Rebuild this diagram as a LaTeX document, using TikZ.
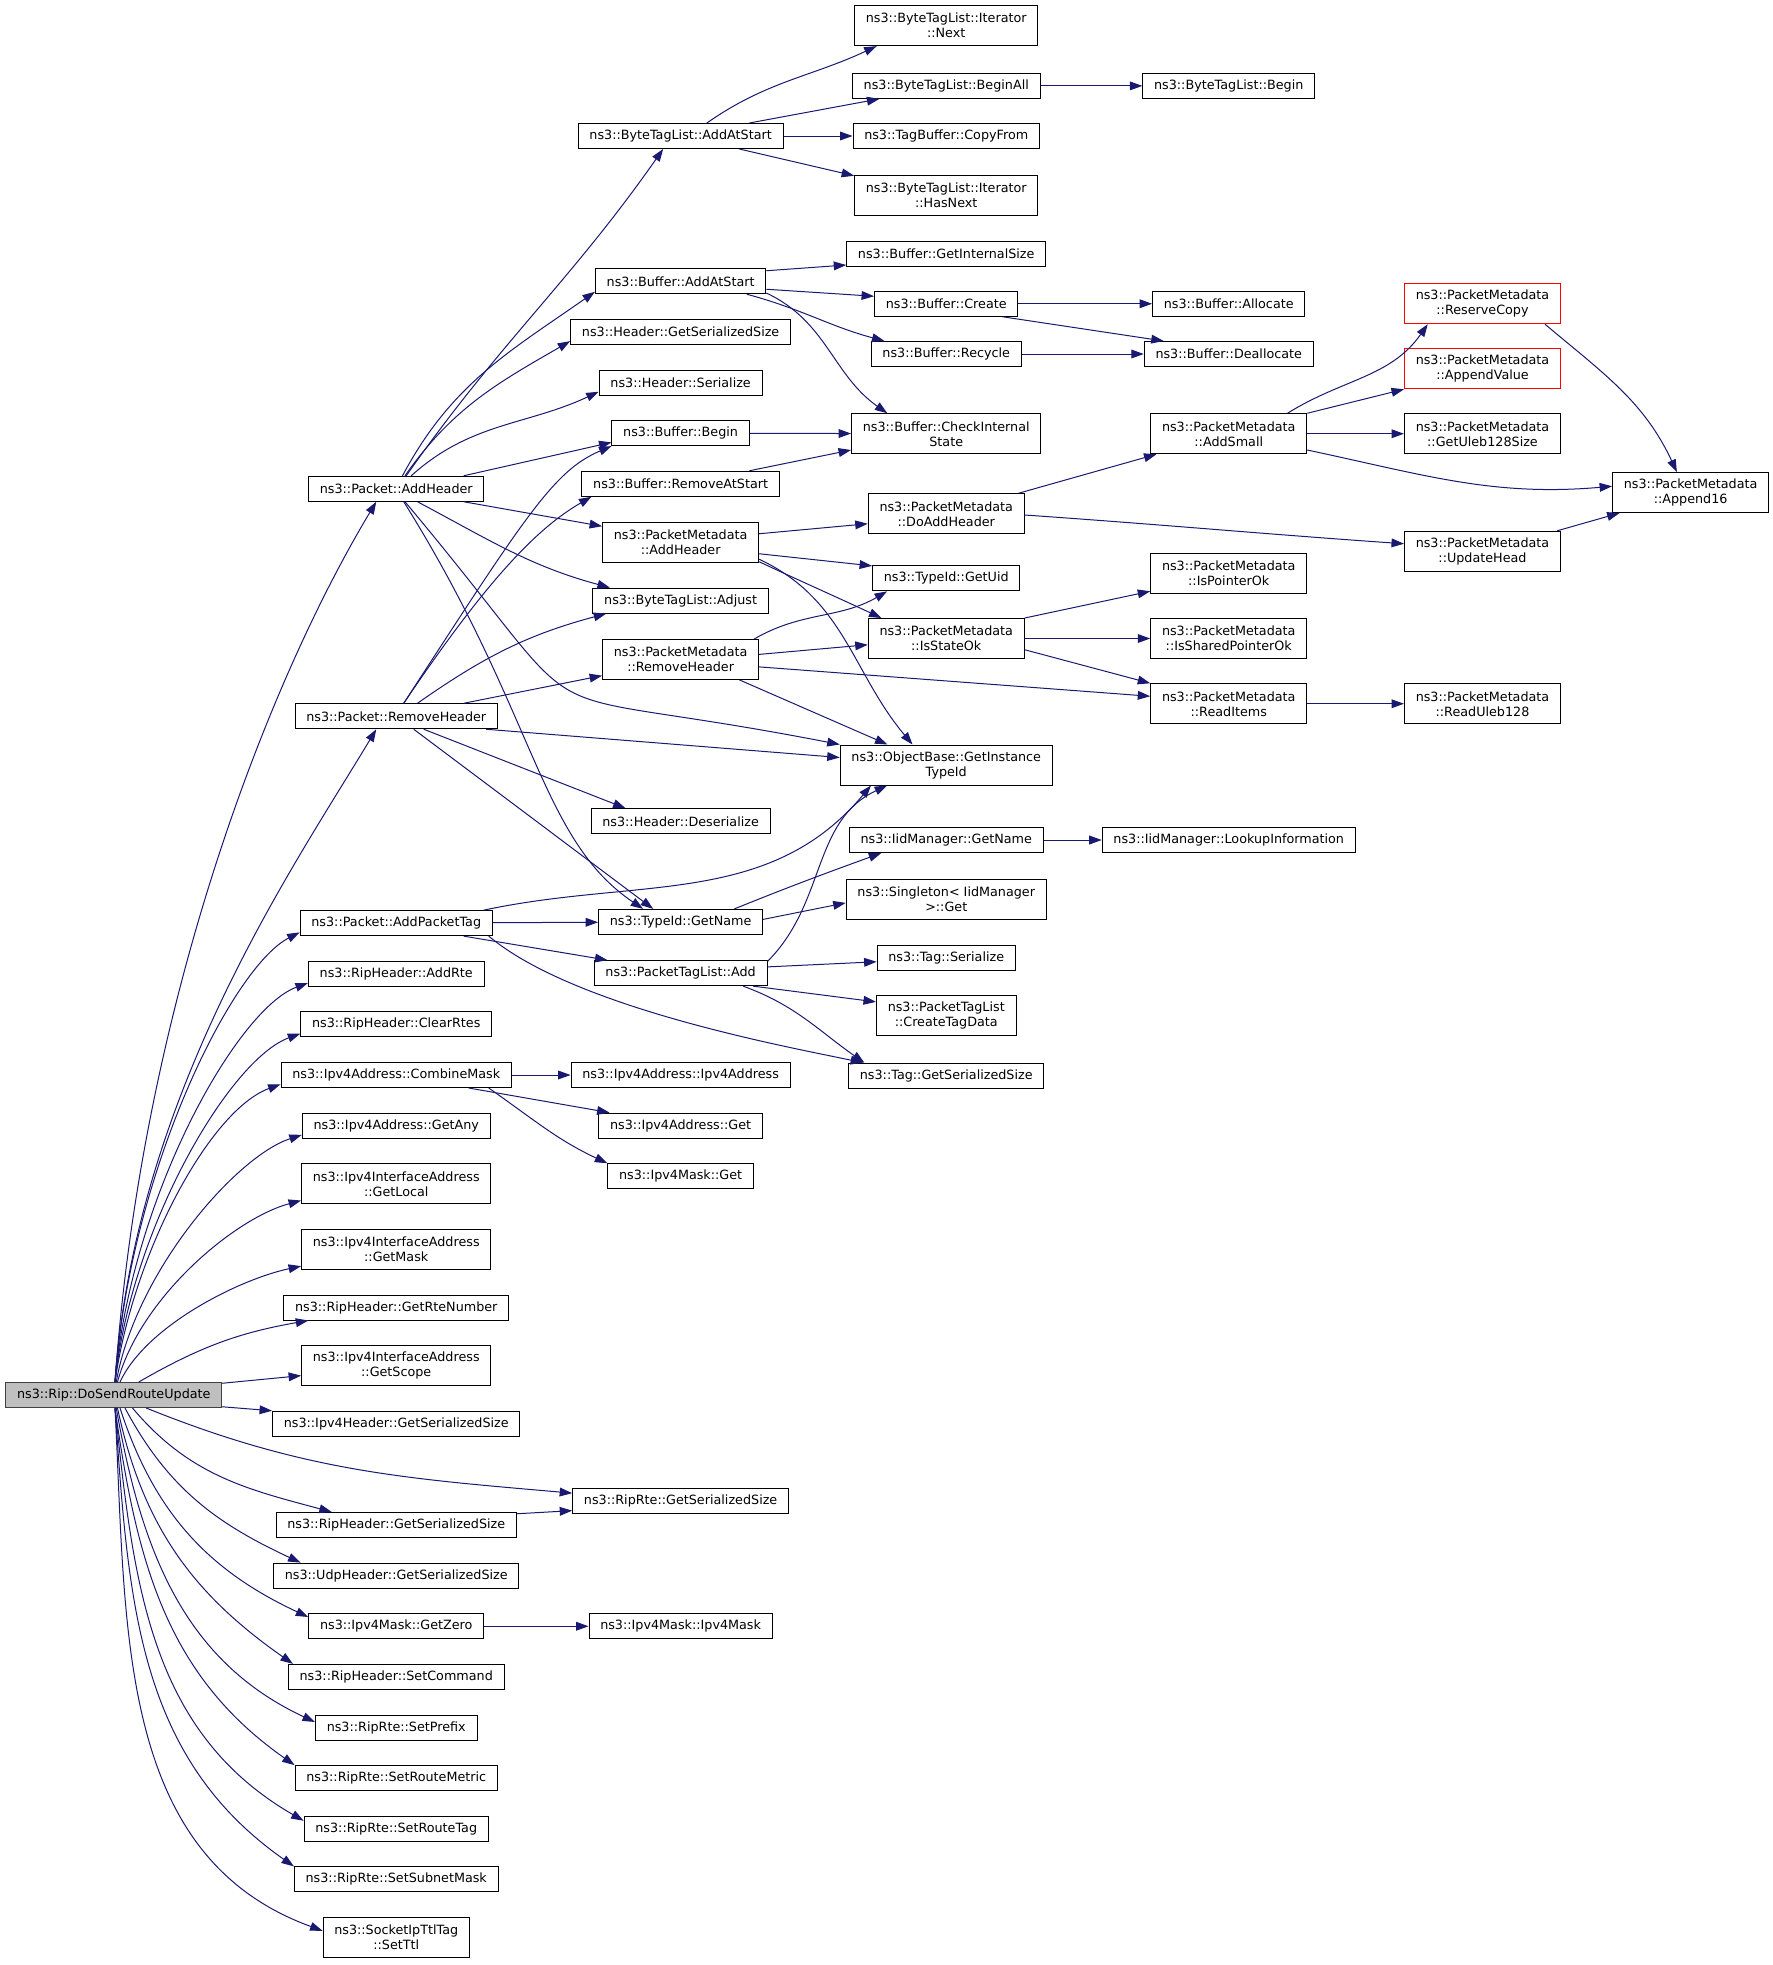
\documentclass[tikz,border=0pt]{standalone}
\usepackage{fontspec}
\setmainfont{DejaVu Sans}
\usepackage{tikz}
\usetikzlibrary{arrows.meta}
\definecolor{callblue}{HTML}{191970}
\tikzset{
  fn/.style = {rectangle, draw=black, align=center, inner xsep=9pt,
    inner ysep=4pt, minimum height=20pt, line width=0.8pt,
    font=\fontsize{10.2}{12}\selectfont},
  fntwo/.style = {fn, minimum height=32pt},
  rootfn/.style = {fn, fill=black!25, draw=black!75},
  redfn/.style = {fntwo, draw=red},
  call/.style = {draw=callblue, line width=0.8pt}
}

\begin{document}
\begin{tikzpicture}[x=1pt, y=1pt, ->, >={Triangle[length=10pt, width=7pt]}]
\useasboundingbox (0,0) rectangle (1418.4,-1572);

\node[rootfn] (do) at (91,-1116) {ns3::Rip::DoSendRouteUpdate};

% first level
\node[fn] (addhdr) at (317,-391) {ns3::Packet::AddHeader};
\node[fn] (rmhdr) at (317,-573) {ns3::Packet::RemoveHeader};
\node[fn] (addtag) at (317,-738.5) {ns3::Packet::AddPacketTag};
\node[fn] (addrte) at (317,-779) {ns3::RipHeader::AddRte};
\node[fn] (clrrtes) at (317,-819.5) {ns3::RipHeader::ClearRtes};
\node[fn] (cmbmask) at (317,-860) {ns3::Ipv4Address::CombineMask};
\node[fn] (getany) at (317,-900.5) {ns3::Ipv4Address::GetAny};
\node[fntwo] (getlocal) at (317,-947) {ns3::Ipv4InterfaceAddress\\::GetLocal};
\node[fntwo] (getmask) at (317,-999.5) {ns3::Ipv4InterfaceAddress\\::GetMask};
\node[fn] (rtenum) at (317,-1046) {ns3::RipHeader::GetRteNumber};
\node[fntwo] (getscope) at (317,-1092.5) {ns3::Ipv4InterfaceAddress\\::GetScope};
\node[fn] (ipv4sz) at (317,-1139) {ns3::Ipv4Header::GetSerializedSize};
\node[fn] (riphsz) at (317,-1220) {ns3::RipHeader::GetSerializedSize};
\node[fn] (udpsz) at (317,-1260.5) {ns3::UdpHeader::GetSerializedSize};
\node[fn] (getzero) at (317,-1301) {ns3::Ipv4Mask::GetZero};
\node[fn] (setcmd) at (317,-1341.5) {ns3::RipHeader::SetCommand};
\node[fn] (setprefix) at (317,-1382) {ns3::RipRte::SetPrefix};
\node[fn] (setmetric) at (317,-1422.5) {ns3::RipRte::SetRouteMetric};
\node[fn] (settag) at (317,-1463) {ns3::RipRte::SetRouteTag};
\node[fn] (setmask) at (317,-1503.5) {ns3::RipRte::SetSubnetMask};
\node[fntwo] (setttl) at (317,-1550) {ns3::SocketIpTtlTag\\::SetTtl};

% second level
\node[fn] (btlstart) at (544.5,-108.8) {ns3::ByteTagList::AddAtStart};
\node[fn] (bufstart) at (544.5,-225) {ns3::Buffer::AddAtStart};
\node[fn] (hdrsz) at (544.5,-265.5) {ns3::Header::GetSerializedSize};
\node[fn] (hdrser) at (544.5,-306) {ns3::Header::Serialize};
\node[fn] (bufbegin) at (544.5,-346.5) {ns3::Buffer::Begin};
\node[fn] (bufrm) at (544.5,-387) {ns3::Buffer::RemoveAtStart};
\node[fntwo] (pmadd) at (544.5,-434) {ns3::PacketMetadata\\::AddHeader};
\node[fn] (btladj) at (544.5,-480.5) {ns3::ByteTagList::Adjust};
\node[fntwo] (pmrm) at (544.5,-527.5) {ns3::PacketMetadata\\::RemoveHeader};
\node[fn] (hdrdes) at (544.5,-657) {ns3::Header::Deserialize};
\node[fn] (tidname) at (544.5,-737.5) {ns3::TypeId::GetName};
\node[fn] (ptladd) at (544.5,-778.5) {ns3::PacketTagList::Add};
\node[fn] (ipv4ctor) at (544.5,-860) {ns3::Ipv4Address::Ipv4Address};
\node[fn] (ipv4get) at (544.5,-900.5) {ns3::Ipv4Address::Get};
\node[fn] (maskget) at (544.5,-941) {ns3::Ipv4Mask::Get};
\node[fn] (rtesz) at (544.5,-1200.5) {ns3::RipRte::GetSerializedSize};
\node[fn] (maskctor) at (544.5,-1301) {ns3::Ipv4Mask::Ipv4Mask};

% third level
\node[fntwo] (itnext) at (757,-20.5) {ns3::ByteTagList::Iterator\\::Next};
\node[fn] (beginall) at (757,-68.7) {ns3::ByteTagList::BeginAll};
\node[fn] (copyfrom) at (757,-108.8) {ns3::TagBuffer::CopyFrom};
\node[fntwo] (hasnext) at (757,-156) {ns3::ByteTagList::Iterator\\::HasNext};
\node[fn] (intsize) at (757,-203) {ns3::Buffer::GetInternalSize};
\node[fn] (bufcreate) at (757,-243) {ns3::Buffer::Create};
\node[fn] (recycle) at (757,-283.2) {ns3::Buffer::Recycle};
\node[fntwo] (checkstate) at (757,-347) {ns3::Buffer::CheckInternal\\State};
\node[fntwo] (doadd) at (757,-411) {ns3::PacketMetadata\\::DoAddHeader};
\node[fn] (getuid) at (757,-462.7) {ns3::TypeId::GetUid};
\node[fntwo] (stateok) at (757,-510.8) {ns3::PacketMetadata\\::IsStateOk};
\node[fntwo] (insttid) at (757,-612) {ns3::ObjectBase::GetInstance\\TypeId};
\node[fn] (iidname) at (757,-672) {ns3::IidManager::GetName};
\node[fntwo] (singleton) at (757,-719.3) {ns3::Singleton< IidManager\\>::Get};
\node[fn] (tagser) at (757,-766.4) {ns3::Tag::Serialize};
\node[fntwo] (createtag) at (757,-812.5) {ns3::PacketTagList\\::CreateTagData};
\node[fn] (tagsz) at (757,-860.6) {ns3::Tag::GetSerializedSize};

% fourth level and beyond
\node[fn] (btlbegin) at (983,-68.7) {ns3::ByteTagList::Begin};
\node[fn] (allocate) at (983,-243) {ns3::Buffer::Allocate};
\node[fn] (dealloc) at (983,-283.2) {ns3::Buffer::Deallocate};
\node[fntwo] (addsmall) at (983,-347) {ns3::PacketMetadata\\::AddSmall};
\node[fntwo] (ptrok) at (983,-458.6) {ns3::PacketMetadata\\::IsPointerOk};
\node[fntwo] (sharedok) at (983,-510.8) {ns3::PacketMetadata\\::IsSharedPointerOk};
\node[fntwo] (readitems) at (983,-563) {ns3::PacketMetadata\\::ReadItems};
\node[fn] (lookup) at (983,-672) {ns3::IidManager::LookupInformation};
\node[redfn] (reserve) at (1186,-243) {ns3::PacketMetadata\\::ReserveCopy};
\node[redfn] (appendval) at (1186,-295) {ns3::PacketMetadata\\::AppendValue};
\node[fntwo] (uleb128sz) at (1186,-347) {ns3::PacketMetadata\\::GetUleb128Size};
\node[fntwo] (updatehead) at (1186,-441) {ns3::PacketMetadata\\::UpdateHead};
\node[fntwo] (readuleb) at (1186,-563) {ns3::PacketMetadata\\::ReadUleb128};
\node[fntwo] (append16) at (1352.5,-394) {ns3::PacketMetadata\\::Append16};

% calls from the root
\draw[call] ([xshift=1pt]do.north) to[out=86, in=239, out distance=300pt, in distance=170pt] ([xshift=-16pt]addhdr.south);
\draw[call] ([xshift=1pt]do.north) to[out=86, in=239, out distance=230pt, in distance=130pt] ([xshift=-16pt]rmhdr.south);
\draw[call] ([xshift=1pt]do.north) to[out=86, in=207, out distance=170pt, in distance=60pt] ([yshift=3pt]addtag.south west);
\draw[call] ([xshift=1pt]do.north) to[out=85, in=200, out distance=150pt, in distance=60pt] ([yshift=3pt]addrte.south west);
\draw[call] ([xshift=1pt]do.north) to[out=84, in=200, out distance=125pt, in distance=60pt] ([yshift=3pt]clrrtes.south west);
\draw[call] ([xshift=1pt]do.north) to[out=82, in=200, out distance=105pt, in distance=60pt] ([yshift=3pt]cmbmask.south west);
\draw[call] ([xshift=2pt]do.north) to[out=80, in=198, out distance=90pt, in distance=55pt] ([yshift=3pt]getany.south west);
\draw[call] ([xshift=3pt]do.north) to[out=75, in=195, out distance=70pt, in distance=55pt] ([yshift=3pt]getlocal.south west);
\draw[call] ([xshift=5pt]do.north) to[out=65, in=192, out distance=50pt, in distance=50pt] ([yshift=3pt]getmask.south west);
\draw[call] ([xshift=20pt]do.north) to[out=30, in=190] ([xshift=20pt]rtenum.south west);
\draw[call] ([yshift=-1pt]do.north east) -- ([yshift=-8pt]getscope.west);
\draw[call] ([yshift=1pt]do.south east) -- (ipv4sz.north west);
\draw[call] ([xshift=26pt]do.south) to[out=-22, in=175] ([yshift=6pt]rtesz.west);
\draw[call] ([xshift=15pt]do.south) to[out=-50, in=165] ([xshift=45pt]riphsz.north west);
\draw[call] ([xshift=9pt]do.south) to[out=-62, in=155] ([xshift=22pt]udpsz.north west);
\draw[call] ([xshift=5pt]do.south) to[out=-72, in=155] ([yshift=-3pt]getzero.north west);
\draw[call] ([xshift=3pt]do.south) to[out=-78, in=145] ([xshift=4pt]setcmd.north west);
\draw[call] ([xshift=2pt]do.south) to[out=-80, in=155] ([yshift=-6pt]setprefix.north west);
\draw[call] ([xshift=1pt]do.south) to[out=-82, in=145] (setmetric.north west);
\draw[call] ([xshift=1pt]do.south) to[out=-84, in=150] ([yshift=-4pt]settag.north west);
\draw[call] ([xshift=1pt]do.south) to[out=-86, in=145] (setmask.north west);
\draw[call] ([xshift=1pt]do.south) to[out=-87, in=160] ([yshift=-11pt]setttl.north west);

% Packet::AddHeader
\draw[call] ([xshift=8pt]addhdr.north) to[out=55, in=235] ([xshift=-14pt]btlstart.south);
\draw[call] ([xshift=5pt]addhdr.north) to[out=62, in=215] ([yshift=2pt]bufstart.south west);
\draw[call] ([xshift=7pt]addhdr.north) to[out=55, in=210] ([yshift=3pt]hdrsz.south west);
\draw[call] ([xshift=12pt]addhdr.north) to[out=42, in=205] ([yshift=3pt]hdrser.south west);
\draw[call] ([xshift=54pt]addhdr.north) -- ([yshift=3pt]bufbegin.south west);
\draw[call] ([xshift=54pt]addhdr.south) -- ([yshift=13pt]pmadd.west);
\draw[call] ([xshift=17pt]addhdr.south) to[out=-28, in=165] ([xshift=14pt]btladj.north west);
\draw[call] ([xshift=7pt]addhdr.south) to[out=-50, in=169, out distance=260pt, in distance=280pt] (insttid.north west);
\draw[call] ([xshift=6pt]addhdr.south) to[out=-58, in=146, out distance=200pt, in distance=100pt] ([xshift=-30pt]tidname.north);

% Packet::RemoveHeader
\draw[call] ([xshift=6pt]rmhdr.north) to[out=57, in=203, out distance=180pt, in distance=50pt] (bufbegin.south west);
\draw[call] ([xshift=6pt]rmhdr.north) to[out=56, in=210, out distance=120pt, in distance=50pt] ([xshift=8pt]bufrm.south west);
\draw[call] ([xshift=17pt]rmhdr.north) to[out=35, in=195] ([xshift=11pt]btladj.south west);
\draw[call] ([xshift=54pt]rmhdr.north) -- ([yshift=-13pt]pmrm.west);
\draw[call] ([xshift=72pt]rmhdr.south) -- ([yshift=6pt]insttid.west);
\draw[call] ([xshift=22pt]rmhdr.south) -- ([xshift=28pt]hdrdes.north west);
\draw[call] ([xshift=14pt]rmhdr.south) -- ([xshift=-22pt]tidname.north);

% Packet::AddPacketTag, CombineMask and the rest
\draw[call] ([xshift=70pt]addtag.north) to[out=12, in=230] ([xshift=25pt]insttid.south west);
\draw[call] (addtag) -- (tidname);
\draw[call] ([xshift=54pt]addtag.south) -- ([xshift=11pt]ptladd.north west);
\draw[call] ([xshift=74pt]addtag.south) to[out=-40, in=168, out distance=90pt, in distance=60pt] ([xshift=12pt]tagsz.north west);
\draw[call] (cmbmask) -- (ipv4ctor);
\draw[call] ([xshift=58pt]cmbmask.south) -- ([xshift=9pt]ipv4get.north west);
\draw[call] ([xshift=74pt]cmbmask.south) to[out=-35, in=155] (maskget.north west);
\draw[call] ([yshift=9pt]riphsz.east) -- ([yshift=-8pt]rtesz.west);
\draw[call] (getzero) -- (maskctor);

% ByteTagList and Buffer
\draw[call] ([xshift=21pt]btlstart.north) to[out=35, in=205] ([xshift=18pt]itnext.south west);
\draw[call] ([xshift=55pt]btlstart.north) -- ([xshift=22pt]beginall.south west);
\draw[call] (btlstart) -- (copyfrom);
\draw[call] ([xshift=47pt]btlstart.south) -- ([yshift=-1pt]hasnext.north west);
\draw[call] (beginall) -- (btlbegin);
\draw[call] ([yshift=-2pt]bufstart.north east) -- ([yshift=-9pt]intsize.west);
\draw[call] ([yshift=4pt]bufstart.south east) -- ([yshift=6pt]bufcreate.west);
\draw[call] ([xshift=53pt]bufstart.south) to[out=-15, in=165] ([xshift=11pt]recycle.north west);
\draw[call] ([yshift=1pt]bufstart.south east) to[out=-25, in=145] ([xshift=29pt]checkstate.north west);
\draw[call] (bufcreate) -- (allocate);
\draw[call] ([xshift=45pt]bufcreate.south) -- ([xshift=16pt]dealloc.north west);
\draw[call] (recycle) -- (dealloc);
\draw[call] (bufbegin) -- (checkstate);
\draw[call] ([xshift=55pt]bufrm.north) -- ([yshift=-13pt]checkstate.west);

% PacketMetadata
\draw[call] ([yshift=7pt]pmadd.east) -- ([yshift=-8pt]doadd.west);
\draw[call] ([yshift=-9pt]pmadd.east) -- ([yshift=10pt]getuid.west);
\draw[call] ([yshift=1pt]pmadd.south east) to[out=-25, in=155] ([xshift=11pt]stateok.north west);
\draw[call] ([yshift=3pt]pmadd.south east) to[out=-25, in=130] ([xshift=-27pt]insttid.north);
\draw[call] ([xshift=59pt]pmrm.north) to[out=30, in=210] ([xshift=12pt]getuid.south west);
\draw[call] ([yshift=4pt]pmrm.east) -- ([yshift=-5pt]stateok.west);
\draw[call] ([yshift=-6pt]pmrm.east) -- ([yshift=6pt]readitems.west);
\draw[call] ([xshift=47pt]pmrm.south) -- ([xshift=-47pt]insttid.north);
\draw[call] ([xshift=-5pt]doadd.north east) -- ([xshift=5pt]addsmall.south west);
\draw[call] ([yshift=-1pt]doadd.east) to[out=-4, in=176] ([yshift=6pt]updatehead.west);
\draw[call] ([xshift=47pt]addsmall.north) to[out=32, in=235] ([xshift=19pt]reserve.south west);
\draw[call] (addsmall.north east) -- (appendval.south west);
\draw[call] (addsmall) -- (uleb128sz);
\draw[call] ([yshift=-13pt]addsmall.east) to[out=-12, in=185] ([yshift=5pt]append16.west);
\draw[call] ([xshift=50pt]reserve.south) to[out=-40, in=115] ([xshift=-11pt]append16.north);
\draw[call] ([xshift=-3pt]updatehead.north east) -- ([xshift=6pt]append16.south west);
\draw[call] (stateok.north east) -- ([yshift=2pt]ptrok.south west);
\draw[call] (stateok) -- (sharedok);
\draw[call] ([yshift=-9pt]stateok.east) -- (readitems.north west);
\draw[call] (readitems) -- (readuleb);

% TypeId and PacketTagList
\draw[call] ([xshift=43pt]tidname.north) to[out=22, in=200] ([xshift=26pt]iidname.south west);
\draw[call] ([yshift=2pt]tidname.east) -- ([yshift=-3pt]singleton.west);
\draw[call] (iidname) -- (lookup);
\draw[call] ([yshift=-1pt]ptladd.north east) to[out=45, in=205] ([xshift=38pt]insttid.south west);
\draw[call] ([yshift=5pt]ptladd.east) -- ([yshift=-3pt]tagser.west);
\draw[call] ([xshift=58pt]ptladd.south) -- ([yshift=11pt]createtag.west);
\draw[call] ([xshift=50pt]ptladd.south) to[out=-20, in=145] ([xshift=13pt]tagsz.north west);
\end{tikzpicture}
\end{document}
